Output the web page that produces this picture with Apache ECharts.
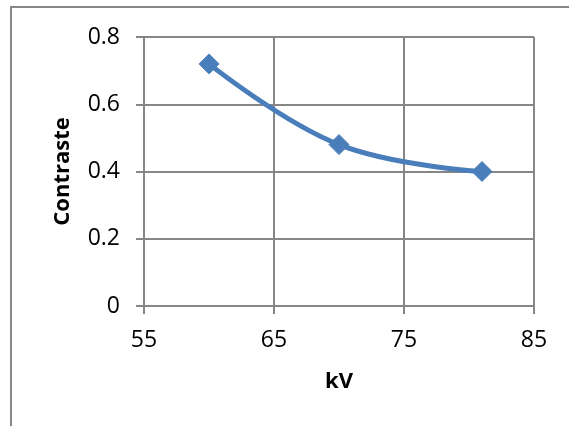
<!DOCTYPE html>
<html>
<head>
<meta charset="utf-8">
<script src="https://cdn.jsdelivr.net/npm/echarts@6/dist/echarts.min.js"></script>
<style>
  html, body { margin: 0; padding: 0; background: #fff; }
  #chart { width: 569px; height: 426px; }
</style>
</head>
<body>
<div id="chart"></div>
<script>
// Measured contrast at each tube voltage
const kv = [60, 70, 81];
const contrast = [0.72, 0.48, 0.40];

// Axis settings
const xTicks = { min: 55, max: 85, interval: 10 };
const yTicks = { min: 0, max: 0.8, interval: 0.2 };
const xTitle = 'kV';
const yTitle = 'Contraste';

const gridColor = '#868686';
const lineColor = '#4a7ebb';
const font = '"Open Sans", Lato, sans-serif';

const chart = echarts.init(document.getElementById('chart'), null, { renderer: 'canvas' });

chart.setOption({
  animation: false,
  backgroundColor: '#ffffff',
  grid: { left: 144, top: 37, right: 35, bottom: 120, containLabel: false },
  graphic: [{
    type: 'rect',
    shape: { x: 11, y: 7, width: 700, height: 600 },
    style: { fill: 'none', stroke: gridColor, lineWidth: 2 },
    silent: true
  }],
  xAxis: {
    type: 'value',
    min: xTicks.min, max: xTicks.max, interval: xTicks.interval,
    name: xTitle,
    nameLocation: 'middle',
    nameGap: 65,
    nameTextStyle: { fontFamily: font, fontWeight: 'bold', fontSize: 22, color: '#000' },
    axisLine: { show: true, onZero: false, lineStyle: { color: gridColor, width: 2 } },
    axisTick: { show: true, inside: false, length: 8, lineStyle: { color: gridColor, width: 2 } },
    axisLabel: { margin: 23, fontFamily: font, fontSize: 23, color: '#000' },
    splitLine: { show: true, lineStyle: { color: gridColor, width: 2 } }
  },
  yAxis: {
    type: 'value',
    min: yTicks.min, max: yTicks.max, interval: yTicks.interval,
    name: yTitle,
    nameLocation: 'middle',
    nameGap: 70,
    nameRotate: 90,
    nameTextStyle: { fontFamily: font, fontWeight: 'bold', fontSize: 22, color: '#000' },
    axisLine: { show: true, onZero: false, lineStyle: { color: gridColor, width: 2 } },
    axisTick: { show: true, inside: false, length: 8, lineStyle: { color: gridColor, width: 2 } },
    axisLabel: { margin: 24, fontFamily: font, fontSize: 23, color: '#000' },
    splitLine: { show: true, lineStyle: { color: gridColor, width: 2 } }
  },
  series: [{
    type: 'line',
    data: kv.map((v, i) => [v, contrast[i]]),
    smooth: 0.4,
    symbol: 'diamond',
    symbolSize: 20,
    showAllSymbol: true,
    lineStyle: { color: lineColor, width: 5 },
    itemStyle: { color: lineColor, borderColor: lineColor },
    z: 5
  }]
});
</script>
</body>
</html>
